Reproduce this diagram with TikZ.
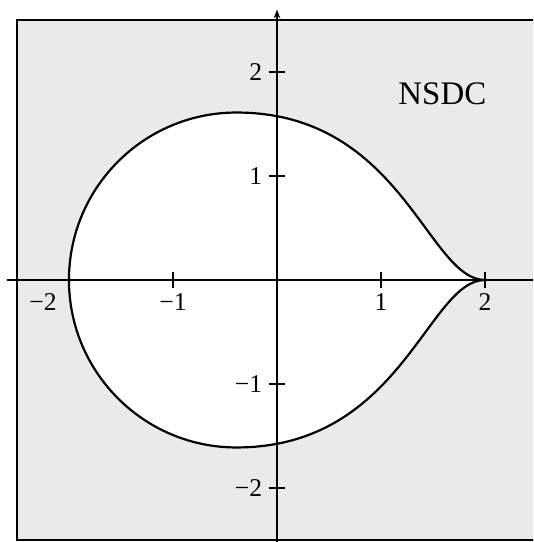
\documentclass[tikz,border=0pt]{standalone}
\usepackage{fontspec}
\setmainfont{Liberation Serif}
\usetikzlibrary{arrows.meta}
\definecolor{regiongray}{HTML}{EAEAEA}

\begin{document}
\begin{tikzpicture}[
    every node/.style={font=\fontsize{7}{8}\selectfont, inner sep=1pt},
    axisline/.style={line width=0.6pt},
    tickmark/.style={line width=0.6pt}]
  \clip (-2.663,-2.519) rectangle (2.462,2.692);
  % shaded region and frame
  \draw[fill=regiongray, line width=0.7pt] (-2.5,-2.5) rectangle (2.5,2.5);
  % boundary of the region
  \draw[fill=white, line width=0.6pt]
    (2,0) .. controls (1.45,0) and (1.2,1.61) .. (-0.39,1.61)
    arc[start angle=90, end angle=270, radius=1.61]
    .. controls (1.2,-1.61) and (1.45,0) .. (2,0) -- cycle;
  % axes
  \draw[axisline] (-2.6,0) -- (2.6,0);
  \draw[axisline, -{Stealth[length=2.4pt, width=1.8pt]}] (0,-2.6) -- (0,2.6);
  \foreach \x/\lab in {-1/−1, 1/1, 2/2} {
    \draw[tickmark] (\x,-0.08) -- (\x,0.08);
    \node[anchor=north] (xlab\x) at (\x,-0.09) {\lab};
  }
  \node[anchor=north] (xlabm2) at (-2.25,-0.09) {−2};
  \foreach \y/\lab in {-2/−2, -1/−1, 1/1, 2/2} {
    \draw[tickmark] (-0.08,\y) -- (0.08,\y);
    \node[anchor=east] (ylab\y) at (-0.1,\y) {\lab};
  }
  \node[font=\fontsize{9}{10}\selectfont] (name) at (1.59,1.79) {NSDC};
\end{tikzpicture}
\end{document}
